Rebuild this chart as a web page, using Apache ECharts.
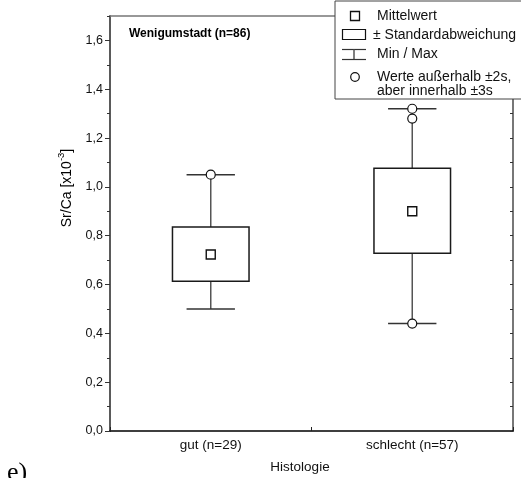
<!DOCTYPE html>
<html>
<head>
<meta charset="utf-8">
<script src="https://cdn.jsdelivr.net/npm/echarts@6/dist/echarts.min.js"></script>
<style>
  html, body { margin: 0; padding: 0; background: #fff; }
  #chart { width: 521px; height: 478px; }
</style>
</head>
<body>
<div id="chart"></div>
<script>
// Sr/Ca ratios by histological preservation, Wenigumstadt
const categories = ['gut (n=29)', 'schlecht (n=57)'];
const means = [0.723, 0.900];
const sdLower = [0.613, 0.728];
const sdUpper = [0.836, 1.076];
const minima = [0.50, 0.44];
const maxima = [1.05, 1.32];
// values outside ±2s but inside ±3s
const outlierGroup = [0, 1, 1, 1];
const outlierValues = [1.05, 1.32, 1.28, 0.44];
const yTickValues = [0, 0.2, 0.4, 0.6, 0.8, 1.0, 1.2, 1.4, 1.6];
const yTickLabels = ['0,0', '0,2', '0,4', '0,6', '0,8', '1,0', '1,2', '1,4', '1,6'];

const FONT = "'Liberation Sans', Arial, sans-serif";

function tickLabel(v) {
  const k = yTickValues.findIndex(t => Math.abs(t - v) < 1e-6);
  return k >= 0 ? yTickLabels[k] : '';
}

// mean ± SD box, whiskers to min / max with caps
function renderBox(params, api) {
  const i = api.value(0);
  const lo = api.coord([i, api.value(1)]);
  const hi = api.coord([i, api.value(2)]);
  const mn = api.coord([i, api.value(3)]);
  const mx = api.coord([i, api.value(4)]);
  const band = api.size([1, 0])[0];
  const bw = band * 0.38;
  const cw = band * 0.24;
  const x = lo[0];
  const whisker = { stroke: '#555', lineWidth: 1.5 };
  const cap = { stroke: '#333', lineWidth: 1.5 };
  return {
    type: 'group',
    children: [
      { type: 'line', shape: { x1: x, y1: hi[1], x2: x, y2: mx[1] }, style: whisker },
      { type: 'line', shape: { x1: x, y1: lo[1], x2: x, y2: mn[1] }, style: whisker },
      { type: 'line', shape: { x1: x - cw / 2, y1: mx[1], x2: x + cw / 2, y2: mx[1] }, style: cap },
      { type: 'line', shape: { x1: x - cw / 2, y1: mn[1], x2: x + cw / 2, y2: mn[1] }, style: cap },
      { type: 'rect', shape: { x: x - bw / 2, y: hi[1], width: bw, height: lo[1] - hi[1] },
        style: { fill: '#fff', stroke: '#1a1a1a', lineWidth: 1.5 } }
    ]
  };
}

const chart = echarts.init(document.getElementById('chart'), null, { renderer: 'canvas' });

const LEG_FONT = '14px ' + FONT;
const LZ = 100;
const legendElements = [
  { type: 'rect', z: LZ, shape: { x: 335, y: 1, width: 200, height: 98 },
    style: { fill: '#fff', stroke: '#444', lineWidth: 1 } },
  { type: 'rect', z: LZ + 1, shape: { x: 350.5, y: 11.5, width: 9, height: 9 },
    style: { fill: '#fff', stroke: '#111', lineWidth: 1.3 } },
  { type: 'text', z: LZ + 1, style: { text: 'Mittelwert', x: 377, y: 16, font: LEG_FONT, fill: '#111', textVerticalAlign: 'middle' } },
  { type: 'rect', z: LZ + 1, shape: { x: 342.5, y: 29.5, width: 23, height: 10 },
    style: { fill: '#fff', stroke: '#111', lineWidth: 1.2 } },
  { type: 'text', z: LZ + 1, style: { text: '± Standardabweichung', x: 373, y: 35, font: LEG_FONT, fill: '#111', textVerticalAlign: 'middle' } },
  { type: 'line', z: LZ + 1, shape: { x1: 342, y1: 49.5, x2: 366, y2: 49.5 }, style: { stroke: '#333', lineWidth: 1.2 } },
  { type: 'line', z: LZ + 1, shape: { x1: 354, y1: 49.5, x2: 354, y2: 59.5 }, style: { stroke: '#555', lineWidth: 1.5 } },
  { type: 'line', z: LZ + 1, shape: { x1: 342, y1: 59.5, x2: 366, y2: 59.5 }, style: { stroke: '#333', lineWidth: 1.2 } },
  { type: 'text', z: LZ + 1, style: { text: 'Min / Max', x: 377, y: 54, font: LEG_FONT, fill: '#111', textVerticalAlign: 'middle' } },
  { type: 'circle', z: LZ + 1, shape: { cx: 355, cy: 77, r: 4.3 }, style: { fill: '#fff', stroke: '#111', lineWidth: 1.2 } },
  { type: 'text', z: LZ + 1, style: { text: 'Werte außerhalb ±2s,', x: 377, y: 77, font: LEG_FONT, fill: '#111', textVerticalAlign: 'middle' } },
  { type: 'text', z: LZ + 1, style: { text: 'aber innerhalb ±3s', x: 377, y: 91, font: LEG_FONT, fill: '#111', textVerticalAlign: 'middle' } }
];

const option = {
  animation: false,
  backgroundColor: '#fff',
  grid: { left: 110, right: 8, top: 16, bottom: 47, containLabel: false },
  xAxis: [
    {
      type: 'category',
      data: categories,
      position: 'bottom',
      boundaryGap: true,
      axisLine: { onZero: false, lineStyle: { color: '#000', width: 1.5 } },
      axisTick: { show: true, inside: true, length: 4, lineStyle: { color: '#222' } },
      axisLabel: { fontFamily: FONT, fontSize: 13.5, color: '#111', margin: 7 },
      splitLine: { show: false }
    },
    {
      type: 'category',
      data: categories,
      position: 'top',
      axisLine: { show: true, onZero: false, lineStyle: { color: '#777', width: 1.5 } },
      axisTick: { show: false },
      axisLabel: { show: false },
      splitLine: { show: false }
    }
  ],
  yAxis: [
    {
      type: 'value',
      position: 'left',
      min: 0, max: 1.7, interval: 0.2,
      axisLine: { show: true, onZero: false, lineStyle: { color: '#5a5a5a', width: 2 } },
      axisTick: { show: true, inside: false, length: 5, lineStyle: { color: '#333' } },
      axisLabel: { formatter: tickLabel, showMaxLabel: false, fontFamily: FONT, fontSize: 12.5, color: '#111', margin: 7 },
      splitLine: { show: false }
    },
    {
      type: 'value',
      position: 'left',
      min: 0, max: 1.7, interval: 0.1,
      axisLine: { show: false, onZero: false },
      axisTick: { show: true, inside: false, length: 3, lineStyle: { color: '#333' } },
      axisLabel: { show: false },
      splitLine: { show: false }
    },
    {
      type: 'value',
      position: 'right',
      min: 0, max: 1.7, interval: 0.1,
      axisLine: { show: true, onZero: false, lineStyle: { color: '#777', width: 2 } },
      axisTick: { show: true, inside: true, length: 3, lineStyle: { color: '#333' } },
      axisLabel: { show: false },
      splitLine: { show: false }
    }
  ],
  series: [
    {
      type: 'custom',
      xAxisIndex: 0, yAxisIndex: 0,
      renderItem: renderBox,
      encode: { x: 0, y: [1, 2, 3, 4] },
      data: categories.map((c, i) => [i, sdLower[i], sdUpper[i], minima[i], maxima[i]]),
      z: 2
    },
    {
      type: 'scatter',
      xAxisIndex: 0, yAxisIndex: 0,
      symbol: 'circle', symbolSize: 9,
      itemStyle: { color: '#fff', borderColor: '#111', borderWidth: 1.2, opacity: 1 },
      data: outlierGroup.map((g, k) => [g, outlierValues[k]]),
      z: 3
    },
    {
      type: 'scatter',
      xAxisIndex: 0, yAxisIndex: 0,
      symbol: 'rect', symbolSize: 9,
      itemStyle: { color: '#fff', borderColor: '#111', borderWidth: 1.4, opacity: 1 },
      data: means.map((m, i) => [i, m]),
      z: 3
    }
  ],
  graphic: {
    z: 100,
    elements: [
      { type: 'text', z: 5, style: { text: 'Wenigumstadt (n=86)', x: 129, y: 34, font: 'bold 12px ' + FONT, fill: '#000', textVerticalAlign: 'middle' } },
      { type: 'text', z: 5, x: 65, y: 188, rotation: Math.PI / 2,
        style: {
          text: '{n|Sr/Ca [x10}{s|-3}{n|]}',
          align: 'center', verticalAlign: 'middle',
          rich: {
            n: { fontFamily: FONT, fontSize: 14, color: '#111', lineHeight: 18, verticalAlign: 'bottom' },
            s: { fontFamily: FONT, fontSize: 9.5, color: '#111', lineHeight: 18, verticalAlign: 'top' }
          }
        } },
      { type: 'text', z: 5, style: { text: 'Histologie', x: 300, y: 467, font: '13.5px ' + FONT, fill: '#111', textAlign: 'center', textVerticalAlign: 'middle' } },
      { type: 'text', z: 5, style: { text: 'e)', x: 7, y: 486, font: '26px "Liberation Serif", "Times New Roman", serif', fill: '#000', textVerticalAlign: 'bottom' } },
      ...legendElements
    ]
  }
};

chart.setOption(option);
</script>
</body>
</html>
